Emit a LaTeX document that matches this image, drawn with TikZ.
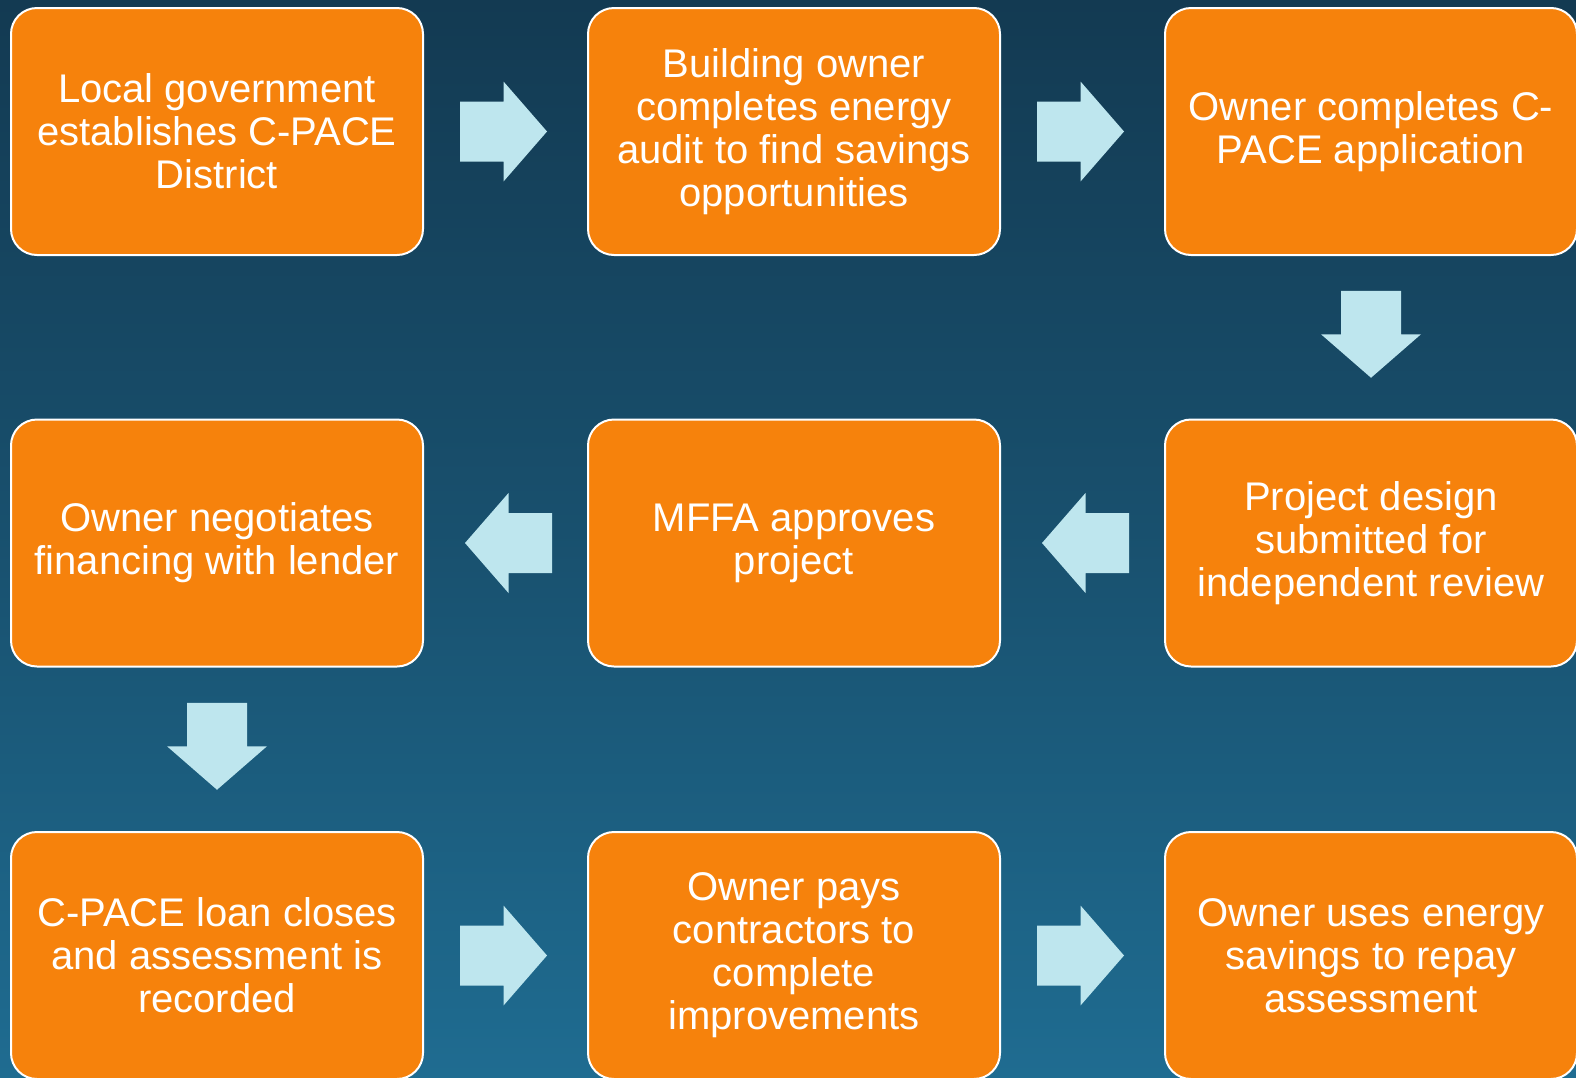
\documentclass[tikz,border=0pt]{standalone}
\usepackage{fontspec}
\setmainfont{Liberation Sans}
\usetikzlibrary{calc}
\definecolor{bgtop}{RGB}{19,58,82}
\definecolor{bgbot}{RGB}{31,108,145}
\definecolor{boxor}{RGB}{246,130,12}
\definecolor{arrlb}{RGB}{190,230,238}
\tikzset{
  stepbox/.style={draw=white, line width=2pt, fill=boxor, rounded corners=26pt,
    minimum width=412pt, minimum height=247pt, inner sep=0pt,
    text=white, align=center, font=\fontsize{40}{43}\selectfont},
  blockarrow/.pic={\fill[arrlb] (-43.5,-30) -- (0,-30) -- (0,-50) -- (43.5,0) -- (0,50) -- (0,30) -- (-43.5,30) -- cycle;}
}
\begin{document}
\begin{tikzpicture}[x=1pt,y=-1pt]
\useasboundingbox (0,0) rectangle (1576,1077);
\clip (0,0) rectangle (1576,1077);
\shade[top color=bgtop, bottom color=bgbot, middle color=bgtop!55!bgbot] (0,0) rectangle (1576,1077);
% row 1
\node[stepbox] (b1) at (217,131.5) {Local government\\establishes C-PACE\\District};
\node[stepbox] (b2) at (794,131.5) {Building owner\\completes energy\\audit to find savings\\opportunities};
\node[stepbox] (b3) at (1371,131.5) {Owner completes C-\\PACE application};
% row 2
\node[stepbox] (b4) at (1371,543) {Project design\\submitted for\\independent review};
\node[stepbox] (b5) at (794,543) {MFFA approves\\project};
\node[stepbox] (b6) at (217,543) {Owner negotiates\\financing with lender};
% row 3
\node[stepbox] (b7) at (217,955.5) {C-PACE loan closes\\and assessment is\\recorded};
\node[stepbox] (b8) at (794,955.5) {Owner pays\\contractors to\\complete\\improvements};
\node[stepbox] (b9) at (1371,955.5) {Owner uses energy\\savings to repay\\assessment};
% arrows
\path (b1.east) -- pic[xshift=-2pt] {blockarrow} (b2.west);
\path (b2.east) -- pic[xshift=-2pt] {blockarrow} (b3.west);
\path (b3.south) -- pic[yshift=3pt, rotate=-90] {blockarrow} (b4.north);
\path (b4.west) -- pic[xshift=3pt, rotate=180] {blockarrow} (b5.east);
\path (b5.west) -- pic[xshift=3pt, rotate=180] {blockarrow} (b6.east);
\path (b6.south) -- pic[yshift=3pt, rotate=-90] {blockarrow} (b7.north);
\path (b7.east) -- pic[xshift=-2pt] {blockarrow} (b8.west);
\path (b8.east) -- pic[xshift=-2pt] {blockarrow} (b9.west);
\end{tikzpicture}
\end{document}
